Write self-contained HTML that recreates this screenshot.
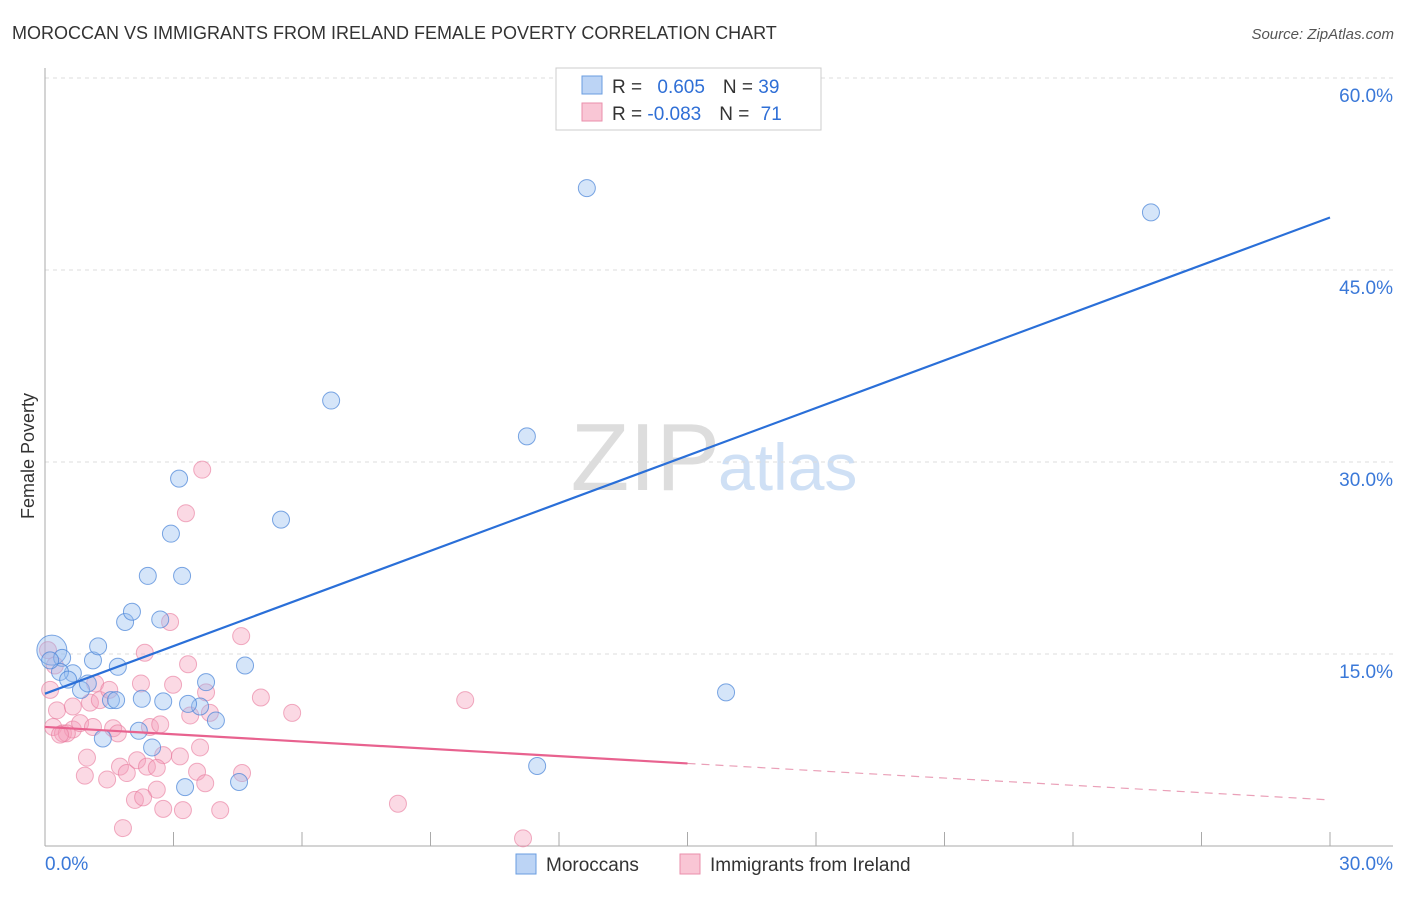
<!DOCTYPE html>
<html><head><meta charset="utf-8"><style>
body{margin:0;background:#fff;font-family:"Liberation Sans",sans-serif;}
svg text{font-family:"Liberation Sans",sans-serif;}
</style></head><body>
<svg id="c" width="1406" height="892" xmlns="http://www.w3.org/2000/svg">
<text x="12" y="39" font-size="18" fill="#333">MOROCCAN VS IMMIGRANTS FROM IRELAND FEMALE POVERTY CORRELATION CHART</text>
<text x="1394" y="39" font-size="15" fill="#555" font-style="italic" text-anchor="end">Source: ZipAtlas.com</text>
<text x="34" y="456" font-size="18" fill="#333" text-anchor="middle" transform="rotate(-90 34 456)">Female Poverty</text>
<text x="720" y="490" font-size="96" fill="#ddd" text-anchor="end" font-family="Liberation Serif">ZIP</text>
<text x="718" y="490" font-size="66" fill="#cfe0f5">atlas</text>
<g id="grid"></g><g id="pts"></g><g id="lines"></g>
<g>
<rect x="556" y="68" width="265" height="62" fill="#fff" stroke="#ccc"/>
<rect x="582" y="76" width="20" height="18" fill="#bcd4f5" stroke="#6a9de0"/>
<rect x="582" y="103" width="20" height="18" fill="#f9c6d5" stroke="#ea8fab"/>
<text x="612" y="93" font-size="19" fill="#333">R = <tspan fill="#2f6fd6" dx="10">0.605</tspan><tspan dx="18" fill="#333">N = </tspan><tspan fill="#2f6fd6">39</tspan></text>
<text x="612" y="120" font-size="19" fill="#333">R = <tspan fill="#2f6fd6">-0.083</tspan><tspan dx="18" fill="#333">N = </tspan><tspan fill="#2f6fd6" dx="6">71</tspan></text>
</g>
<g>
<rect x="516" y="854" width="20" height="20" fill="#bcd4f5" stroke="#6a9de0"/>
<text x="546" y="871" font-size="19" fill="#333">Moroccans</text>
<rect x="680" y="854" width="20" height="20" fill="#f9c6d5" stroke="#ea8fab"/>
<text x="710" y="871" font-size="19" fill="#333">Immigrants from Ireland</text>
</g>
</svg>
<script>
const yTicks=[15,30,45,60];
const yTickLabels=["15.0%","30.0%","45.0%","60.0%"];
const xTicks=[3,6,9,12,15,18,21,24,27,30];
const xEndLabels=["0.0%","30.0%"];
const blueX=[0.16,0.40,0.65,0.35,0.84,1.0,1.12,1.24,1.70,1.35,1.54,1.66,1.87,2.03,2.40,2.69,2.26,2.76,2.94,3.13,3.20,3.76,3.62,3.34,3.99,4.67,4.53,3.27,2.50,2.19,5.51,6.68,11.25,12.65,15.9,11.49,25.82,0.54,0.12];
const blueY=[15.3,14.7,13.5,13.6,12.2,12.7,14.5,15.6,14.0,8.4,11.4,11.4,17.5,18.3,21.1,17.7,11.5,11.3,24.4,28.7,21.1,12.8,10.9,11.1,9.8,14.1,5.0,4.6,7.7,9.0,25.5,34.8,32.0,51.4,12.0,6.25,49.5,13.0,14.5];
const pinkX=[2.92,4.58,2.33,3.34,2.24,2.99,3.76,5.04,1.17,0.12,0.28,0.65,1.05,1.28,3.39,3.85,0.19,0.42,0.65,0.82,1.12,1.59,1.70,2.45,2.69,3.62,2.76,3.15,0.98,0.93,1.45,1.75,1.91,2.15,2.38,2.61,3.55,3.74,4.60,2.61,2.10,2.29,2.76,3.22,4.09,1.82,0.51,3.67,3.29,9.81,5.77,8.24,11.16,0.07,0.23,1.5,0.35];
const pinkY=[17.5,16.4,15.1,14.2,12.7,12.6,12.0,11.6,12.7,12.2,10.6,10.9,11.2,11.4,10.2,10.4,9.3,8.8,9.1,9.6,9.3,9.2,8.8,9.3,9.5,7.7,7.1,7.0,6.9,5.5,5.2,6.2,5.7,6.7,6.2,6.1,5.8,4.9,5.7,4.4,3.6,3.8,2.9,2.8,2.8,1.4,8.8,29.4,26.0,11.4,10.4,3.3,0.6,15.3,14.1,12.2,8.7];
const blueTrend=[11.9,49.1]; // values at x=0 and x=30
const pinkTrend=[9.3,3.6];
const pinkSolidEnd=15;
const NS="http://www.w3.org/2000/svg";
const X=v=>45+v*(1285/30), Y=v=>846-v*12.8;
function mk(t,a,p){const e=document.createElementNS(NS,t);for(const k in a)e.setAttribute(k,a[k]);p.appendChild(e);return e;}
const g=document.getElementById('grid');
yTicks.forEach((t,i)=>{
 const l=mk('line',{x1:45,x2:1393,y1:Y(t),y2:Y(t),stroke:'#ddd','stroke-dasharray':'4,4'},g);
 
 
 const tx=mk('text',{x:1393,y:Y(t)+24,'font-size':19,fill:'#3a78d8','text-anchor':'end'},g);
 tx.textContent=yTickLabels[i];
 
 
});
const ax=mk('line',{x1:45,x2:45,y1:68,y2:846,stroke:'#aaa'},g);


const bx=mk('line',{x1:45,x2:1393,y1:846,y2:846,stroke:'#aaa'},g);


xTicks.forEach(t=>{const l=mk('line',{x1:X(t),x2:X(t),y1:832,y2:846,stroke:'#aaa'},g);
 
 });
[[0,'start',45],[30,'end',1393]].forEach((d,i)=>{const tx=mk('text',{x:d[2],y:870,'font-size':19,fill:'#3a78d8','text-anchor':d[1]},g);tx.textContent=xEndLabels[i];
 
 });
const p=document.getElementById('pts');
pinkX.forEach((x,i)=>{const c=mk('circle',{cx:X(x),cy:Y(pinkY[i]),r:8.5,fill:'rgba(244,160,188,0.4)',stroke:'rgba(232,120,155,0.6)'},p);
 
 });
blueX.forEach((x,i)=>{const c=mk('circle',{cx:X(x),cy:Y(blueY[i]),r:i==0?15:8.5,fill:'rgba(150,190,240,0.4)',stroke:'rgba(70,130,215,0.7)'},p);
 
 });
const L=document.getElementById('lines');
const bl=mk('line',{x1:X(0),y1:Y(blueTrend[0]),x2:X(30),y2:Y(blueTrend[1]),stroke:'#2a6fd8','stroke-width':2.2},L);


const pm=pinkTrend[0]+(pinkTrend[1]-pinkTrend[0])*pinkSolidEnd/30;
const pl=mk('line',{x1:X(0),y1:Y(pinkTrend[0]),x2:X(pinkSolidEnd),y2:Y(pm),stroke:'#e8628f','stroke-width':2.2},L);


const pd=mk('line',{x1:X(pinkSolidEnd),y1:Y(pm),x2:X(30),y2:Y(pinkTrend[1]),stroke:'#eaa0b8','stroke-width':1.2,'stroke-dasharray':'8,6'},L);


</script>
</body></html>
